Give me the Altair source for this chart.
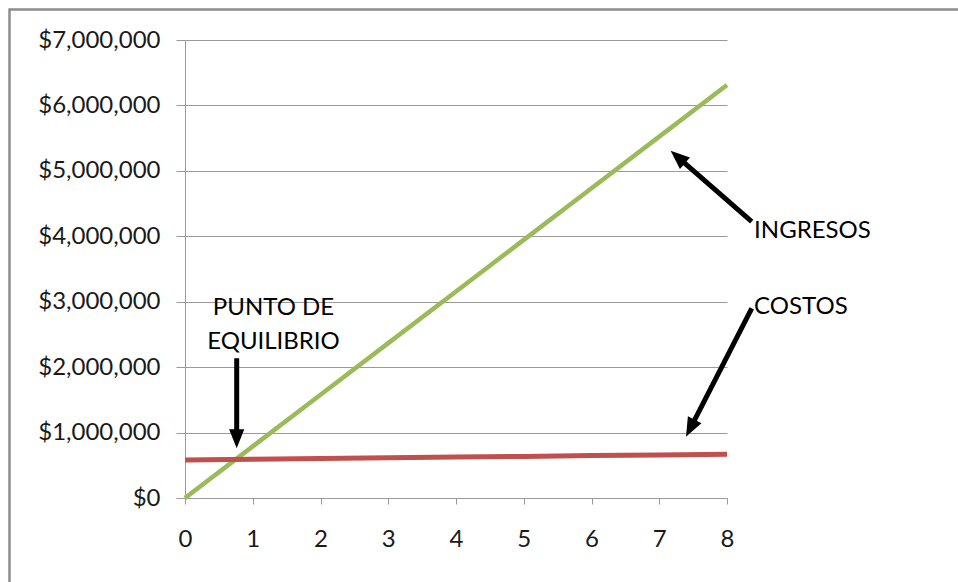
import altair as alt
import pandas as pd

# ---- data ----
units = [0, 1, 2, 3, 4, 5, 6, 7, 8]
ingresos = [0, 789000, 1578000, 2367000, 3156000, 3945000, 4734000, 5523000, 6312000]
costos = [580000, 591000, 602000, 614000, 625000, 636000, 648000, 659000, 670000]

# annotations (data coordinates)
label_text = ["INGRESOS", "COSTOS", "PUNTO DE", "EQUILIBRIO"]
label_x = [8.40, 8.40, 1.306, 1.306]
label_y = [4080000, 2925000, 2910000, 2390000]
label_align = ["left", "left", "center", "center"]

arrow_x = [8.365, 8.365, 0.763]
arrow_y = [4223000, 2899000, 2136000]
arrow_tip_x = [7.168, 7.395, 0.763]
arrow_tip_y = [5307000, 937000, 761000]
arrow_angle = [311.2, 207.1, 180.0]

FONT = "Lato"
GRID = "#9a9a9a"

df = pd.DataFrame({"x": units + units,
                   "y": ingresos + costos,
                   "serie": ["Ingresos"] * len(units) + ["Costos"] * len(units)})

xs = alt.Scale(domain=[0, 8], nice=False)
ys = alt.Scale(domain=[0, 7000000], nice=False)

green = alt.Chart(df[df.serie == "Ingresos"]).mark_line(color="#9BBB59", strokeWidth=4.5).encode(
    x=alt.X("x:Q", scale=xs, axis=alt.Axis(values=units, title=None, grid=False, tickSize=6,
                                           labelPadding=23, domainColor=GRID, tickColor=GRID,
                                           labelColor="#1a1a1a", labelFont=FONT, labelFontSize=24,
                                           labelFlush=False, format="d")),
    y=alt.Y("y:Q", scale=ys, axis=alt.Axis(values=[i * 1000000 for i in range(8)], title=None,
                                           format="$,.0f", grid=True, gridColor=GRID, tickSize=9,
                                           labelPadding=16, domainColor=GRID, tickColor=GRID,
                                           labelColor="#1a1a1a", labelFont=FONT, labelFontSize=24,
                                           labelFlush=False)),
)
red = alt.Chart(df[df.serie == "Costos"]).mark_line(color="#C0504D", strokeWidth=5).encode(
    x=alt.X("x:Q", scale=xs), y=alt.Y("y:Q", scale=ys))

# arrows
frac = 0.88
adf = pd.DataFrame({
    "x": arrow_x, "y": arrow_y,
    "x2": [a + (b - a) * frac for a, b in zip(arrow_x, arrow_tip_x)],
    "y2": [a + (b - a) * frac for a, b in zip(arrow_y, arrow_tip_y)],
    "tx": arrow_tip_x, "ty": arrow_tip_y, "ang": arrow_angle,
})
shafts = alt.Chart(adf).mark_rule(color="black", strokeWidth=5).encode(
    x=alt.X("x:Q", scale=xs), y=alt.Y("y:Q", scale=ys), x2="x2:Q", y2="y2:Q")
heads = alt.Chart(adf).mark_point(shape="M0,0L-0.8,2L0.8,2Z", filled=True, color="black",
                                  opacity=1, size=361, strokeWidth=0).encode(
    x=alt.X("tx:Q", scale=xs), y=alt.Y("ty:Q", scale=ys),
    angle=alt.Angle("ang:Q", scale=None))

ldf = pd.DataFrame({"t": label_text, "x": label_x, "y": label_y, "a": label_align})
texts_left = alt.Chart(ldf[ldf.a == "left"]).mark_text(
    align="left", baseline="middle", font=FONT, fontSize=24, color="black").encode(
    x=alt.X("x:Q", scale=xs), y=alt.Y("y:Q", scale=ys), text="t:N")
texts_center = alt.Chart(ldf[ldf.a == "center"]).mark_text(
    align="center", baseline="middle", font=FONT, fontSize=24, color="black").encode(
    x=alt.X("x:Q", scale=xs), y=alt.Y("y:Q", scale=ys), text="t:N")

# outer frame (top and left edges visible)
one = pd.DataFrame({"k": [0]})
frame_top = alt.Chart(one).mark_rule(color="#8c8c8c", strokeWidth=2.5).encode(
    x=alt.value(-176), x2=alt.value(800), y=alt.value(-30.5))
frame_left = alt.Chart(one).mark_rule(color="#8c8c8c", strokeWidth=2.5).encode(
    x=alt.value(-175.5), y=alt.value(-31.5), y2=alt.value(560))

chart = alt.layer(green, red, shafts, heads, texts_left, texts_center, frame_top, frame_left).properties(
    width=542, height=458,
    autosize=alt.AutoSizeParams(type="none"),
    padding={"left": 185, "top": 40, "right": 231, "bottom": 84},
    background="white",
).configure_view(stroke=None)

chart.save("out.html", embed_options={"renderer": "svg", "actions": False})
